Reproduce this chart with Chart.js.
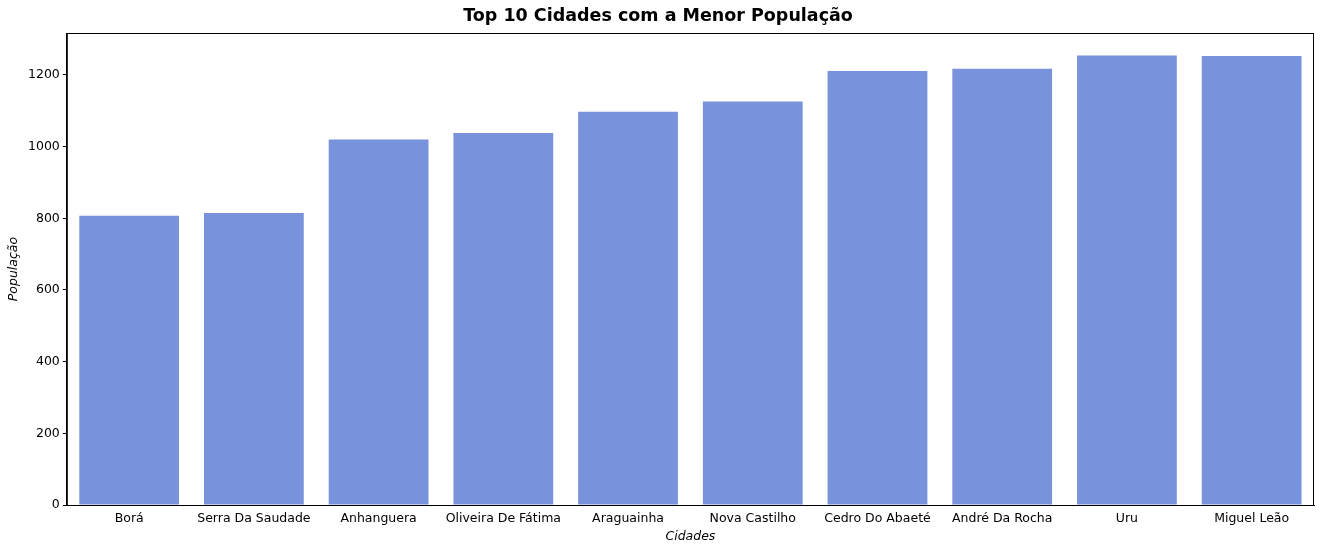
<!DOCTYPE html>
<html><head><script src="https://cdn.jsdelivr.net/npm/chart.js"></script>
<style>body{margin:0;background:#fff}#w{width:1324px;height:548px}</style></head>
<body><div id="w"><canvas id="c"></canvas></div>
<script>
const categories=["Borá","Serra Da Saudade","Anhanguera","Oliveira De Fátima","Araguainha","Nova Castilho","Cedro Do Abaeté","André Da Rocha","Uru","Miguel Leão"];
const populacao=[807,815,1020,1038,1097,1126,1211,1217,1254,1253];
const yTicks=[0,200,400,600,800,1000,1200];
Chart.defaults.font.family="DejaVu Sans";
Chart.defaults.color="#000";
const box={id:'box',afterDraw(c){const a=c.chartArea,x=c.ctx;x.save();x.strokeStyle='#000';x.lineWidth=1;x.strokeRect(a.left+0.5,a.top+0.5,a.right-a.left-1,a.bottom-a.top);x.restore();}};
new Chart(document.getElementById('c'),{
type:'bar',
data:{labels:categories,datasets:[{data:populacao,backgroundColor:'rgb(120,146,220)',borderWidth:0,categoryPercentage:0.8,barPercentage:1}]},
options:{responsive:true,maintainAspectRatio:false,animation:false,
layout:{padding:{left:2,right:10,top:2,bottom:4}},
plugins:{legend:{display:false},tooltip:{enabled:false},
title:{display:true,text:'Top 10 Cidades com a Menor População',font:{size:17.5,weight:'bold'},padding:{top:4,bottom:6}}},
scales:{
x:{grid:{display:false,drawOnChartArea:false,drawTicks:true,tickLength:4,color:'#000'},border:{color:'#000'},ticks:{font:{size:12.5},color:'#000',padding:2},
 title:{display:true,text:'Cidades',font:{size:12.5,style:'italic'},padding:{top:1,bottom:0}}},
y:{min:0,max:1317,afterBuildTicks:a=>{a.ticks=yTicks.map(v=>({value:v}))},
 grid:{display:true,drawOnChartArea:false,drawTicks:true,tickLength:4,color:'#000'},border:{color:'#000'},ticks:{font:{size:12.5},color:'#000',callback:v=>String(v),padding:3},
 title:{display:true,text:'População',font:{size:12.5,style:'italic'}}}
}},plugins:[box]});
</script></body></html>
